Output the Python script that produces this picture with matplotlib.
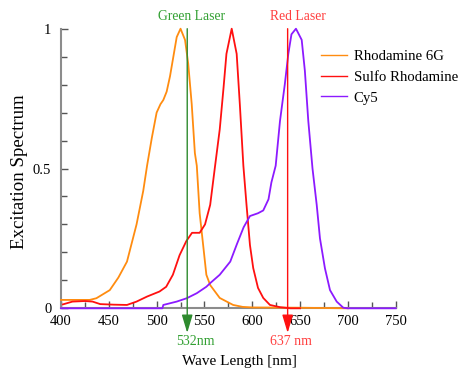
import matplotlib
matplotlib.use("Agg")
import matplotlib.pyplot as plt
from matplotlib.ticker import MultipleLocator

# ---- data ----
r6g_nm = [400, 420, 430, 437, 451, 460, 469, 479, 486, 490, 495, 500, 504, 507, 510.5,
          514, 517.5, 521, 525, 529.7, 533, 536.7, 540, 542, 545, 549, 552, 556, 566,
          580, 590, 600, 650, 700]
r6g_val = [0.03, 0.03, 0.03, 0.036, 0.065, 0.11, 0.167, 0.30, 0.42, 0.51, 0.61, 0.70, 0.73,
           0.745, 0.775, 0.83, 0.90, 0.97, 1.0, 0.96, 0.876, 0.73, 0.555, 0.51, 0.34, 0.215,
           0.12, 0.083, 0.037, 0.012, 0.005, 0.003, 0.002, 0.0]

sr_nm = [402, 412, 425, 433, 441, 455, 469, 479, 490, 503, 510, 517, 524, 531, 537, 545,
         550.6, 556, 561, 566, 570, 573, 578.5, 583.7, 587, 590.7, 594, 597.6, 601, 606,
         611.5, 618.5, 629, 640, 650]
sr_val = [0.014, 0.024, 0.026, 0.024, 0.015, 0.013, 0.012, 0.024, 0.042, 0.06, 0.077, 0.12,
          0.19, 0.24, 0.27, 0.27, 0.30, 0.37, 0.506, 0.64, 0.79, 0.91, 1.0, 0.91, 0.73, 0.51,
          0.37, 0.226, 0.144, 0.073, 0.037, 0.012, 0.004, 0.0, 0.0]

cy5_nm = [400, 506, 507, 521, 531.5, 542, 552, 556, 566, 577, 584, 591, 597.6, 606, 611.5,
          617, 620, 624.5, 629, 634, 637.7, 641, 645.7, 651.7, 655, 658.6, 663, 667.4,
          670.8, 676, 681.3, 688.3, 695.2, 700, 750]
cy5_val = [0.0, 0.0, 0.012, 0.024, 0.036, 0.054, 0.077, 0.09, 0.12, 0.167, 0.23, 0.29, 0.33,
           0.34, 0.35, 0.39, 0.45, 0.51, 0.67, 0.80, 0.91, 0.98, 1.0, 0.96, 0.85, 0.67, 0.50,
           0.37, 0.25, 0.143, 0.065, 0.024, 0.002, 0.0, 0.0]

series_names = ["Rhodamine 6G", "Sulfo Rhodamine", "Cy5"]
series_colors = ["#ff8c10", "#ff1010", "#8c1aff"]

laser_nm = [532, 637]
laser_names = ["Green Laser", "Red Laser"]
laser_labels = ["532nm", "637 nm"]
laser_line_colors = ["#2e8b2e", "#ff1010"]
laser_text_colors = ["#33a033", "#ff4040"]

x_ticks = [400, 450, 500, 550, 600, 650, 700, 750]
y_ticks = [0, 0.5, 1]
y_tick_labels = ["0", "0.5", "1"]

# ---- figure ----
plt.rcParams['font.family'] = ['Liberation Serif', 'DejaVu Serif']
W, H = 459, 372
fig = plt.figure(figsize=(W / 100, H / 100), dpi=100)
ax = fig.add_axes([61 / W, 1 - 308.3 / H, (395.7 - 61) / W, (308.3 - 28.7) / H])

for xs, ys, name, col in zip([r6g_nm, sr_nm, cy5_nm], [r6g_val, sr_val, cy5_val],
                             series_names, series_colors):
    ax.plot(xs, ys, color=col, lw=1.3, label=name, clip_on=False, zorder=3)

ax.set_xlim(400, 750)
ax.set_ylim(0, 1)

for s in ["top", "right"]:
    ax.spines[s].set_visible(False)
for s in ["left", "bottom"]:
    ax.spines[s].set_color("#8c8c8c")
    ax.spines[s].set_linewidth(1.5)

ax.set_xticks(x_ticks)
ax.set_xticklabels([str(t) for t in x_ticks])
ax.xaxis.set_minor_locator(MultipleLocator(25))
ax.set_yticks(y_ticks)
ax.set_yticklabels(y_tick_labels)
ax.yaxis.set_minor_locator(MultipleLocator(0.1))
ax.tick_params(axis="both", which="both", direction="in", color="#555555",
               labelsize=10.5, width=1)
ax.tick_params(axis="both", which="major", length=5)
ax.tick_params(axis="both", which="minor", length=4)
ax.tick_params(axis="x", which="major", pad=5)
ax.tick_params(axis="y", which="major", pad=7)

# laser lines with arrows
for nm, col in zip(laser_nm, laser_line_colors):
    ax.annotate("", xy=(nm, -0.088), xytext=(nm, 1.0),
                xycoords="data", textcoords="data",
                arrowprops=dict(arrowstyle="-|>,head_length=1.1,head_width=0.33",
                                mutation_scale=10, color=col, lw=1,
                                shrinkA=0, shrinkB=0),
                annotation_clip=False, zorder=4)

laser_top_x = [192, 298]
laser_bot_x = [195, 291]
for name, lab, tx, bx, tc in zip(laser_names, laser_labels, laser_top_x, laser_bot_x,
                                 laser_text_colors):
    fig.text(tx / W, 1 - 16 / H, name, color=tc, fontsize=9.8, ha="center", va="center")
    fig.text(bx / W, 1 - 341.5 / H, lab, color=tc, fontsize=10, ha="center", va="center")

fig.text(20 / W, 1 - 172 / H, "Excitation Spectrum", rotation=90, fontsize=13.6,
         ha="center", va="center")
fig.text(239.5 / W, 1 - 362 / H, "Wave Length [nm]", fontsize=11, ha="center",
         va="center")

leg = ax.legend(loc="upper left", bbox_to_anchor=(321 / W, 1 - 50 / H),
                bbox_transform=fig.transFigure, frameon=False, fontsize=10.6,
                handlelength=1.75, handletextpad=0.46, labelspacing=0.5,
                borderpad=0, borderaxespad=0)
for line in leg.get_lines():
    line.set_linewidth(1.0)

fig.savefig("out.png", dpi=100)
